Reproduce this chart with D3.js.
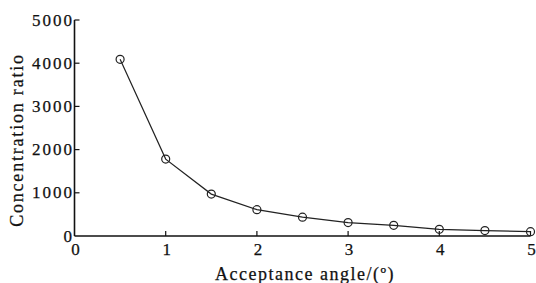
<!DOCTYPE html>
<html>
<head>
<meta charset="utf-8">
<script src="https://cdn.jsdelivr.net/npm/d3@7"></script>
<style>
body{margin:0;background:#fff}
text{font-family:"Liberation Serif",serif;fill:#111;stroke:#111;stroke-width:0.25}
</style>
</head>
<body>
<svg width="536" height="283"></svg>
<script>
var angles = [0.5, 1, 1.5, 2, 2.5, 3, 3.5, 4, 4.5, 5];
var ratios = [4090, 1780, 970, 610, 435, 310, 248, 155, 125, 100];
var xTicks = [0, 1, 2, 3, 4, 5];
var yTicks = [0, 1000, 2000, 3000, 4000, 5000];

var svg = d3.select("svg");
var x = d3.scaleLinear().domain([0, 5]).range([74.5, 530.5]);
var y = d3.scaleLinear().domain([0, 5000]).range([236, 20]);

var g = svg.append("g");
// axes lines
g.append("line").attr("x1", x(0)).attr("x2", x(5)).attr("y1", y(0)).attr("y2", y(0))
  .attr("stroke", "#111").attr("stroke-width", 1.6);
g.append("line").attr("x1", x(0)).attr("x2", x(0)).attr("y1", y(0)).attr("y2", y(5000))
  .attr("stroke", "#111").attr("stroke-width", 1.6);

// x ticks (inward)
g.selectAll(".xt").data(xTicks.slice(1)).enter().append("line")
  .attr("x1", d => x(d)).attr("x2", d => x(d))
  .attr("y1", y(0)).attr("y2", y(0) - 5)
  .attr("stroke", "#111").attr("stroke-width", 1.2);
g.selectAll(".xl").data(xTicks).enter().append("text")
  .attr("x", d => x(d) + 1).attr("y", y(0) + 19)
  .attr("text-anchor", "middle").attr("font-size", 17)
  .text(d => d);

// y ticks (inward)
g.selectAll(".yt").data(yTicks.slice(1)).enter().append("line")
  .attr("x1", x(0)).attr("x2", x(0) + 5)
  .attr("y1", d => y(d)).attr("y2", d => y(d))
  .attr("stroke", "#111").attr("stroke-width", 1.2);
g.selectAll(".yl").data(yTicks).enter().append("text")
  .attr("x", x(0) - 0.5).attr("y", d => y(d) + 5.5)
  .attr("text-anchor", "end").attr("font-size", 17)
  .attr("letter-spacing", 2)
  .text(d => d);

// titles
svg.append("text").attr("x", 305).attr("y", 280)
  .attr("text-anchor", "middle").attr("font-size", 18).attr("letter-spacing", 1.5)
  .text("Acceptance angle/(\u00ba)");
svg.append("text").attr("transform", "translate(23,140) rotate(-90)")
  .attr("text-anchor", "middle").attr("font-size", 18).attr("letter-spacing", 1.8)
  .text("Concentration ratio");

// line and markers
var line = d3.line().x((d, i) => x(angles[i])).y(d => y(d));
svg.append("path").datum(ratios).attr("d", line)
  .attr("fill", "none").attr("stroke", "#222").attr("stroke-width", 1.2);
svg.selectAll("circle").data(ratios).enter().append("circle")
  .attr("cx", (d, i) => x(angles[i])).attr("cy", d => y(d)).attr("r", 4)
  .attr("fill", "none").attr("stroke", "#222").attr("stroke-width", 1.2);
</script>
</body>
</html>
